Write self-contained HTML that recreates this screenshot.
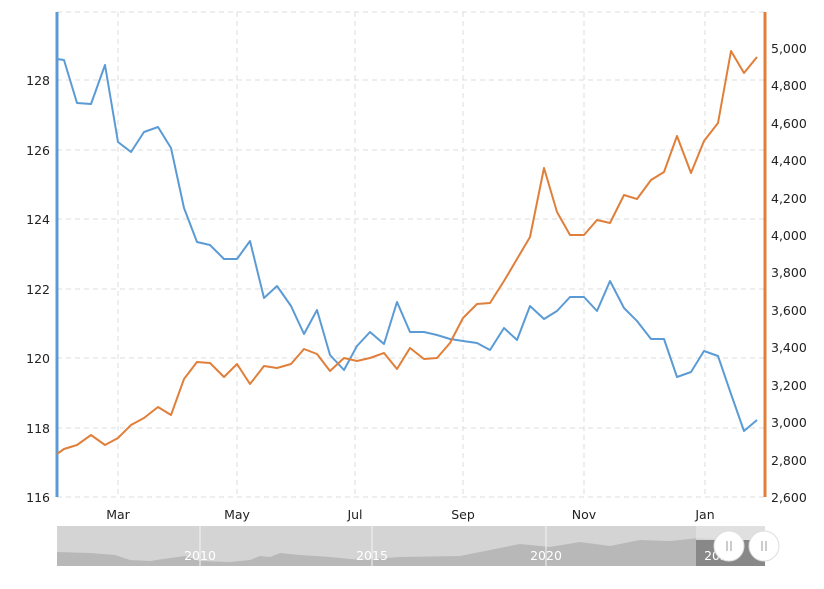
<!DOCTYPE html>
<html><head><style>
body{margin:0;background:#fff;width:824px;height:584px;overflow:hidden;font-family:"Liberation Sans","DejaVu Sans",sans-serif;}
svg text{font-family:"DejaVu Sans","Liberation Sans",sans-serif;font-size:12.5px;fill:#222}
</style></head><body>
<svg width="824" height="584" viewBox="0 0 824 584" xmlns="http://www.w3.org/2000/svg">
<g stroke="#ddd" stroke-dasharray="5,4" stroke-width="1">
<line x1="57" x2="765" y1="12" y2="12"/>
<line x1="57" x2="765" y1="80" y2="80"/>
<line x1="57" x2="765" y1="150" y2="150"/>
<line x1="57" x2="765" y1="219" y2="219"/>
<line x1="57" x2="765" y1="289" y2="289"/>
<line x1="57" x2="765" y1="358" y2="358"/>
<line x1="57" x2="765" y1="428" y2="428"/>
<line x1="57" x2="765" y1="497" y2="497"/>
<line x1="118" x2="118" y1="12" y2="497"/>
<line x1="237" x2="237" y1="12" y2="497"/>
<line x1="355" x2="355" y1="12" y2="497"/>
<line x1="463" x2="463" y1="12" y2="497"/>
<line x1="584" x2="584" y1="12" y2="497"/>
<line x1="705" x2="705" y1="12" y2="497"/>
</g>
<line x1="57" x2="57" y1="12" y2="497" stroke="#5b9bd5" stroke-width="3"/>
<line x1="765" x2="765" y1="12" y2="497" stroke="#e07f3a" stroke-width="3"/>
<g text-anchor="end">
<text x="50" y="85">128</text><text x="50" y="155">126</text><text x="50" y="224">124</text>
<text x="50" y="294">122</text><text x="50" y="363">120</text><text x="50" y="433">118</text><text x="50" y="502">116</text>
</g>
<g>
<text x="771" y="53">5,000</text><text x="771" y="90">4,800</text><text x="771" y="128">4,600</text>
<text x="771" y="165">4,400</text><text x="771" y="203">4,200</text><text x="771" y="240">4,000</text>
<text x="771" y="277">3,800</text><text x="771" y="315">3,600</text><text x="771" y="352">3,400</text>
<text x="771" y="390">3,200</text><text x="771" y="427">3,000</text><text x="771" y="465">2,800</text>
<text x="771" y="502">2,600</text>
</g>
<g text-anchor="middle">
<text x="118" y="519">Mar</text><text x="237" y="519">May</text><text x="355" y="519">Jul</text>
<text x="463" y="519">Sep</text><text x="584" y="519">Nov</text><text x="705" y="519">Jan</text>
</g>
<polyline fill="none" stroke="#5b9bd5" stroke-width="2" stroke-linejoin="round" points="57,59 64,60 77,103 91,104 105,65 118,142 131,152 144,132 158,127 171,148 184,208 197,242 210,245 224,259 237,259 250,241 264,298 277,286 291,306 304,334 317,310 330,355 344,370 357,346 370,332 384,344 397,302 410,332 424,332 437,335 450,339 463,341 477,343 490,350 504,328 517,340 530,306 544,319 557,311 570,297 584,297 597,311 610,281 624,308 637,321 651,339 664,339 677,377 691,372 704,351 718,356 731,394 744,431 757,420"/>
<polyline fill="none" stroke="#e07f3a" stroke-width="2" stroke-linejoin="round" points="57,454 64,449 77,445 91,435 105,445 118,438 131,425 144,418 158,407 171,415 184,379 197,362 210,363 224,377 237,364 250,384 264,366 277,368 291,364 304,349 317,354 330,371 344,358 357,361 370,358 384,353 397,369 410,348 424,359 437,358 450,343 463,318 477,304 490,303 504,281 517,259 530,237 544,168 557,212 570,235 584,235 597,220 610,223 624,195 637,199 651,180 664,172 677,136 691,173 704,141 718,123 731,51 744,73 757,57"/>
<rect x="57" y="526" width="708" height="40" fill="#d4d4d4"/>
<path fill="#b8b8b8" d="M57,552 L90,553 L115,555 L130,560 L150,561 L170,558 L185,556 L200,561 L230,562 L250,560 L260,556 L270,557 L280,553 L300,555 L330,557 L360,560 L400,557 L460,556 L490,550 L520,544 L550,547 L580,542 L610,546 L640,540 L670,541 L700,538 L730,540 L765,540 L765,566 L57,566 Z"/>
<rect x="696" y="526" width="69" height="40" fill="#e8e8e8" opacity="0.6"/>
<rect x="696" y="540" width="69" height="26" fill="#888"/>
<g stroke="#f4f4f4"><line x1="200" x2="200" y1="526" y2="566"/><line x1="372" x2="372" y1="526" y2="566"/><line x1="546" x2="546" y1="526" y2="566"/></g>
<g text-anchor="middle"><text x="200" y="560" style="fill:#fff">2010</text><text x="372" y="560" style="fill:#fff">2015</text><text x="546" y="560" style="fill:#fff">2020</text><text x="720" y="560" style="fill:#fff">2025</text></g>
<circle cx="729" cy="546" r="15" fill="#fff" stroke="#ddd"/>
<circle cx="764" cy="546" r="15" fill="#fff" stroke="#ddd"/>
<g stroke="#999"><line x1="727" x2="727" y1="541" y2="551"/><line x1="731" x2="731" y1="541" y2="551"/><line x1="762" x2="762" y1="541" y2="551"/><line x1="766" x2="766" y1="541" y2="551"/></g>
</svg>
</body></html>
